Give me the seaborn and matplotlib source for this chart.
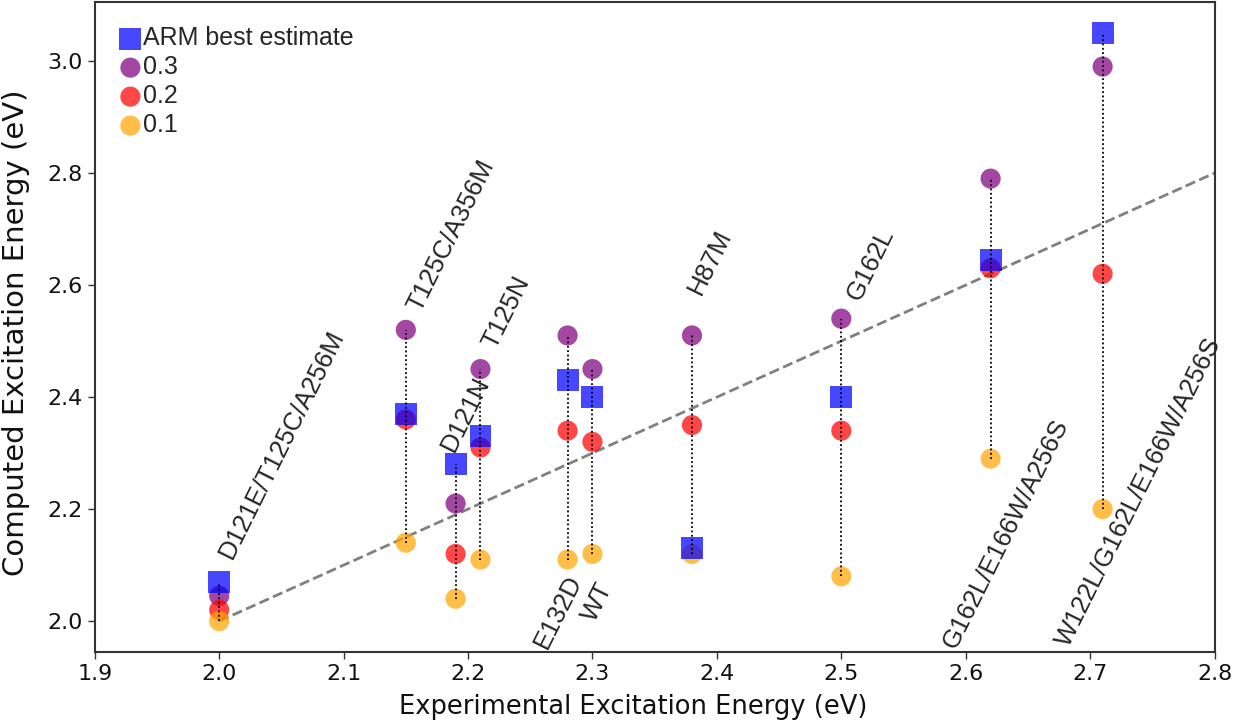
import matplotlib
matplotlib.use("Agg")
import matplotlib.pyplot as plt
import seaborn as sns
import pandas as pd
import numpy as np

# ---- data ----
mutants = ["D121E/T125C/A256M", "T125C/A356M", "D121N", "T125N", "E132D",
           "WT", "H87M", "G162L", "G162L/E166W/A256S", "W122L/G162L/E166W/A256S"]
experimental = [2.00, 2.15, 2.19, 2.21, 2.28, 2.30, 2.38, 2.50, 2.62, 2.71]
arm_best = [2.07, 2.37, 2.28, 2.33, 2.43, 2.40, 2.13, 2.40, 2.645, 3.05]
comp_03 = [2.045, 2.52, 2.21, 2.45, 2.51, 2.45, 2.51, 2.54, 2.79, 2.99]
comp_02 = [2.02, 2.36, 2.12, 2.31, 2.34, 2.32, 2.35, 2.34, 2.63, 2.62]
comp_01 = [2.00, 2.14, 2.04, 2.11, 2.11, 2.12, 2.12, 2.08, 2.29, 2.20]
x_ticks = [1.9, 2.0, 2.1, 2.2, 2.3, 2.4, 2.5, 2.6, 2.7, 2.8]
y_ticks = [2.0, 2.2, 2.4, 2.6, 2.8, 3.0]

# ---- layout (label placement: side, x offset, y offset/absolute) ----
label_side = ["top", "top", "top", "top", "bottom", "bottom", "top", "top", "bottom", "bottom"]
label_dx = [0.01, 0.012, -0.001, 0.012, -0.017, 0.002, 0.007, 0.015, -0.028, -0.027]
label_dy = [0.04, 0.03, 0.02, 0.034, 1.948, 1.996, 0.07, 0.03, 1.948, 1.952]

sns.set_theme(style="white")
plt.rcParams["font.family"] = ["DejaVu Sans"]

fig = plt.figure(figsize=(12.47, 7.26), dpi=100)
ax = fig.add_axes([0.076, 0.102, 0.898, 0.895])

df = pd.DataFrame({"exp": experimental, "arm": arm_best,
                   "c03": comp_03, "c02": comp_02, "c01": comp_01})

# reference diagonal
ax.plot([experimental[0], 2.8], [experimental[0], 2.8], linestyle="--",
        color="gray", lw=2, zorder=1)

# circles
alpha = 0.72
sns.scatterplot(data=df, x="exp", y="c03", ax=ax, color="purple", marker="o",
                s=210, alpha=alpha, edgecolor="none", label="0.3", zorder=3)
sns.scatterplot(data=df, x="exp", y="c02", ax=ax, color="red", marker="o",
                s=210, alpha=alpha, edgecolor="none", label="0.2", zorder=3)
sns.scatterplot(data=df, x="exp", y="c01", ax=ax, color="orange", marker="o",
                s=210, alpha=alpha, edgecolor="none", label="0.1", zorder=3)
sns.scatterplot(data=df, x="exp", y="arm", ax=ax, color="blue", marker="s",
                s=250, alpha=alpha, edgecolor="none", label="ARM best estimate", zorder=4)

# dotted connectors
for i, xv in enumerate(experimental):
    vals = [arm_best[i], comp_03[i], comp_02[i], comp_01[i]]
    ax.plot([xv, xv], [min(vals), max(vals)], linestyle=(0, (1, 1.4)), color="black",
            lw=1.3, zorder=5)

# mutant labels
for i, name in enumerate(mutants):
    vals = [arm_best[i], comp_03[i], comp_02[i], comp_01[i]]
    if label_side[i] == "top":
        y = max(vals) + label_dy[i]
    else:
        y = label_dy[i]
    ax.text(experimental[i] + label_dx[i], y, name, rotation=63.5,
            rotation_mode="anchor", ha="left", va="baseline",
            fontsize=18.5, family=["Liberation Sans", "DejaVu Sans"], zorder=6)

ax.set_xlim(1.9, 2.8)
ax.set_ylim(1.945, 3.105)
ax.set_xticks(x_ticks)
ax.set_yticks(y_ticks)
ax.set_xticklabels([f"{v:.1f}" for v in x_ticks])
ax.set_yticklabels([f"{v:.1f}" for v in y_ticks])
ax.tick_params(axis="both", which="both", direction="out", length=5, width=1,
               color="#333333", labelsize=16, labelcolor="#111111",
               bottom=True, left=True)
for sp in ax.spines.values():
    sp.set_color("#333333")
    sp.set_linewidth(1.5)

ax.set_xlabel("Experimental Excitation Energy (eV)", fontsize=18.5, color="#111111")
ax.set_ylabel("Computed Excitation Energy (eV)", fontsize=21, color="#111111")
ax.xaxis.set_label_coords(0.481, -0.064)
ax.yaxis.set_label_coords(-0.058, 0.492)

handles, labels = ax.get_legend_handles_labels()
order = [labels.index(l) for l in ["ARM best estimate", "0.3", "0.2", "0.1"]]
leg = ax.legend([handles[k] for k in order], [labels[k] for k in order],
                loc="upper left", bbox_to_anchor=(0.024, 0.963), frameon=False,
                handlelength=0.7, handletextpad=0.15, labelspacing=0.2,
                borderaxespad=0.0, borderpad=0.0,
                prop={"family": ["Liberation Sans", "DejaVu Sans"], "size": 18})

fig.savefig("out.png", dpi=100)
